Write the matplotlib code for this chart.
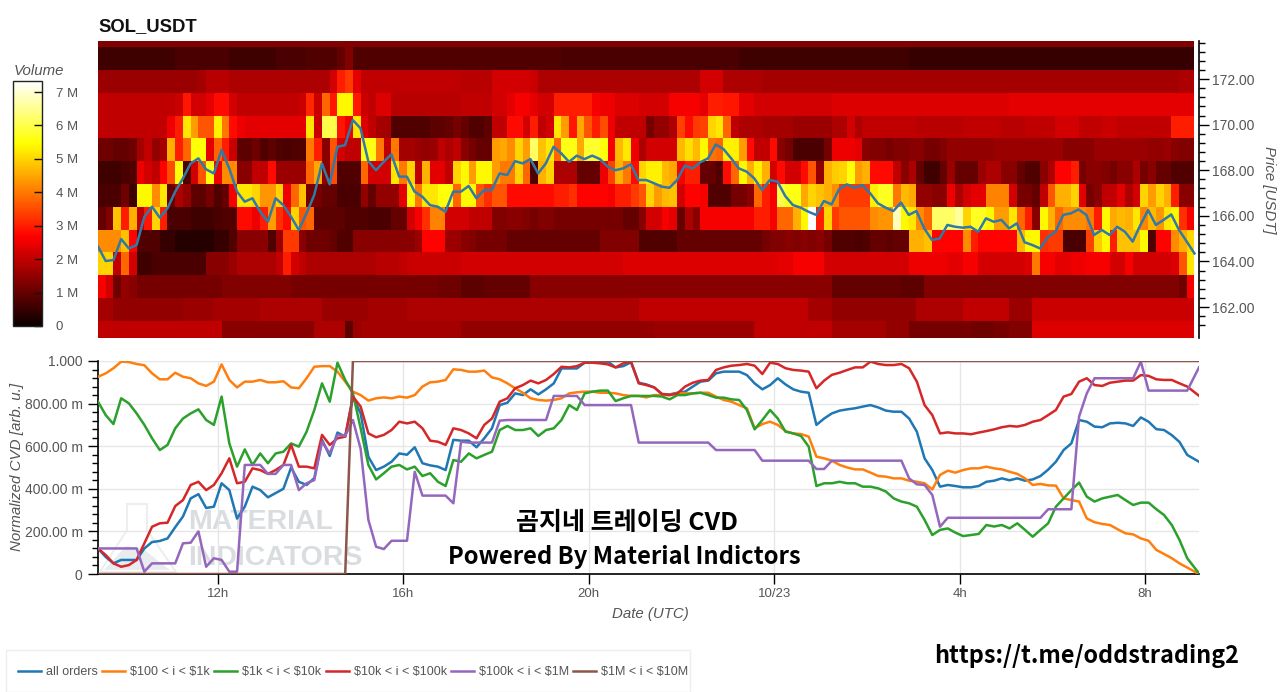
#!/usr/bin/env python3

import numpy as np
import matplotlib
matplotlib.use('Agg')

import matplotlib.pyplot as plt
from matplotlib.patches import Polygon, Rectangle

W, H = 1280, 692

# volume per price row, top row first, in 0.1 M, one value per 10 minute column
vol_top = [13] * 142
vol_1729 = [6, 6, 6, 6, 6, 6, 6, 6, 6, 6, 7, 7, 7, 7, 7, 7, 7, 6, 6, 6,
            6, 6, 6, 7, 7, 7, 7, 8, 8, 8, 8, 10, 13, 8, 8, 8, 8, 8, 8, 8,
            8, 8, 8, 8, 8, 8, 8, 8, 8, 8, 8, 8, 8, 8, 8, 8, 8, 8, 8, 8,
            7, 7, 7, 7, 7, 7, 7, 7, 7, 7, 7, 7, 7, 7, 7, 7, 7, 7, 7, 7,
            7, 7, 7, 6, 6, 6, 6, 6, 6, 6, 6, 6, 6, 6, 6, 6, 6, 6, 6, 6,
            6, 6, 6, 6, 6, 5, 5, 5, 5, 5, 5, 5, 5, 5, 5, 5, 5, 5, 5, 5,
            5, 5, 5, 5, 5, 5, 5, 5, 5, 5, 5, 5, 5, 5, 5, 5, 5, 5, 5, 5,
            5, 5]
vol_1719 = [16, 16, 16, 16, 16, 16, 16, 16, 16, 16, 16, 16, 16, 17, 19, 19, 19, 18, 18, 18,
            18, 18, 18, 18, 18, 18, 18, 18, 18, 18, 22, 30, 33, 24, 20, 20, 20, 20, 20, 20,
            20, 20, 20, 20, 20, 20, 20, 19, 19, 19, 19, 22, 22, 22, 22, 22, 21, 18, 18, 18,
            18, 18, 18, 18, 18, 18, 18, 18, 18, 18, 18, 18, 18, 18, 18, 18, 18, 18, 22, 22,
            22, 18, 18, 18, 18, 18, 17, 17, 17, 17, 17, 17, 17, 17, 17, 17, 17, 17, 17, 17,
            17, 17, 17, 17, 17, 17, 17, 17, 17, 17, 17, 17, 17, 17, 17, 17, 17, 17, 17, 17,
            17, 17, 17, 17, 17, 17, 17, 17, 17, 17, 17, 17, 17, 17, 17, 17, 17, 17, 17, 17,
            18, 18]
vol_1709 = [20, 20, 20, 20, 20, 20, 20, 20, 20, 20, 21, 29, 22, 22, 24, 28, 28, 22, 20, 20,
            20, 20, 20, 20, 20, 20, 21, 31, 21, 38, 29, 54, 54, 29, 21, 20, 23, 23, 19, 19,
            19, 19, 19, 19, 19, 19, 19, 20, 20, 20, 20, 22, 22, 24, 26, 26, 24, 22, 22, 30,
            30, 30, 30, 30, 26, 25, 25, 23, 23, 23, 22, 22, 22, 22, 26, 26, 26, 26, 24, 30,
            30, 29, 29, 24, 24, 22, 22, 22, 22, 22, 22, 22, 22, 22, 22, 23, 23, 23, 23, 23,
            23, 23, 23, 23, 23, 23, 23, 23, 23, 23, 23, 23, 23, 23, 23, 23, 23, 23, 24, 24,
            24, 24, 24, 24, 24, 24, 24, 24, 24, 24, 24, 24, 24, 24, 24, 24, 24, 24, 24, 24,
            24, 24]
vol_1699 = [20, 20, 20, 20, 20, 20, 20, 20, 20, 25, 30, 52, 44, 36, 36, 53, 40, 28, 25, 24,
            24, 24, 24, 24, 24, 24, 24, 52, 21, 60, 60, 29, 25, 52, 23, 20, 17, 17, 8, 8,
            8, 8, 8, 9, 9, 10, 12, 10, 8, 8, 9, 20, 20, 28, 28, 22, 30, 20, 22, 52,
            44, 29, 45, 36, 30, 35, 25, 20, 20, 20, 20, 12, 15, 15, 18, 34, 28, 33, 34, 50,
            52, 38, 20, 18, 18, 18, 17, 17, 17, 17, 16, 16, 16, 16, 16, 18, 18, 22, 18, 20,
            20, 20, 20, 20, 20, 20, 19, 19, 19, 19, 19, 19, 20, 20, 20, 20, 20, 19, 19, 19,
            20, 20, 20, 20, 22, 22, 22, 20, 20, 20, 21, 21, 20, 20, 20, 20, 20, 20, 20, 30,
            30, 30]
vol_1689 = [11, 11, 10, 10, 11, 17, 20, 15, 17, 46, 30, 38, 55, 55, 24, 38, 30, 21, 9, 9,
            11, 8, 9, 8, 7, 8, 8, 40, 30, 14, 36, 22, 20, 20, 56, 56, 40, 20, 40, 17,
            17, 16, 15, 16, 20, 18, 20, 14, 12, 10, 10, 44, 45, 42, 50, 44, 62, 48, 52, 38,
            56, 56, 45, 58, 58, 55, 26, 47, 52, 25, 18, 22, 22, 22, 22, 47, 51, 47, 54, 39,
            38, 53, 53, 44, 28, 20, 20, 28, 14, 12, 7, 7, 7, 7, 12, 25, 25, 25, 24, 14,
            13, 13, 12, 13, 13, 14, 14, 12, 12, 13, 15, 15, 15, 15, 15, 15, 16, 16, 16, 16,
            16, 16, 16, 16, 16, 14, 14, 14, 14, 16, 16, 16, 16, 16, 16, 16, 15, 15, 16, 14,
            13, 13]
vol_1679 = [6, 6, 6, 7, 8, 25, 22, 20, 27, 35, 55, 8, 22, 36, 55, 25, 42, 42, 14, 14,
            20, 20, 28, 16, 16, 16, 16, 38, 45, 14, 35, 8, 8, 8, 38, 22, 22, 22, 52, 40,
            50, 20, 46, 24, 24, 20, 50, 54, 44, 54, 54, 44, 40, 40, 50, 38, 8, 46, 50, 18,
            18, 18, 10, 10, 10, 25, 34, 46, 40, 28, 50, 53, 53, 47, 45, 26, 30, 30, 10, 10,
            8, 28, 38, 54, 46, 53, 46, 22, 28, 22, 22, 28, 36, 15, 46, 49, 50, 55, 44, 46,
            28, 28, 28, 20, 14, 18, 10, 6, 6, 10, 16, 10, 10, 10, 16, 18, 18, 14, 14, 10,
            8, 8, 14, 18, 27, 27, 30, 12, 14, 14, 13, 12, 14, 14, 18, 12, 14, 10, 10, 8,
            8, 8]
vol_1669 = [7, 7, 7, 11, 6, 54, 54, 42, 52, 10, 18, 15, 9, 9, 12, 8, 10, 26, 52, 52,
            50, 43, 43, 50, 25, 38, 48, 12, 12, 10, 10, 7, 7, 7, 15, 10, 15, 15, 15, 24,
            54, 40, 52, 52, 55, 55, 38, 54, 54, 36, 32, 36, 36, 28, 28, 28, 28, 28, 28, 30,
            30, 32, 27, 27, 27, 27, 26, 30, 30, 33, 36, 50, 44, 47, 48, 22, 27, 27, 26, 8,
            8, 8, 12, 12, 14, 38, 30, 26, 60, 56, 56, 45, 50, 48, 46, 42, 33, 33, 33, 33,
            53, 57, 57, 40, 47, 45, 15, 15, 14, 14, 25, 18, 22, 24, 24, 41, 41, 41, 22, 12,
            12, 10, 20, 36, 46, 46, 50, 24, 12, 14, 20, 20, 24, 18, 22, 50, 44, 50, 46, 30,
            14, 14]
vol_1659 = [10, 13, 48, 30, 46, 20, 29, 50, 30, 7, 7, 7, 6, 6, 6, 7, 8, 8, 28, 28,
            25, 30, 44, 32, 28, 50, 36, 38, 9, 9, 9, 9, 8, 8, 8, 7, 7, 7, 10, 10,
            22, 26, 32, 41, 41, 22, 22, 22, 20, 20, 20, 13, 13, 14, 14, 13, 12, 13, 13, 12,
            12, 12, 12, 12, 12, 12, 12, 12, 10, 10, 14, 22, 22, 26, 24, 10, 18, 14, 26, 26,
            26, 26, 26, 26, 26, 30, 30, 26, 38, 38, 46, 54, 73, 30, 50, 33, 36, 36, 36, 36,
            42, 43, 43, 68, 54, 52, 42, 38, 62, 62, 62, 66, 50, 57, 57, 54, 44, 44, 52, 38,
            30, 14, 54, 46, 38, 42, 42, 42, 40, 30, 54, 45, 47, 46, 52, 41, 47, 43, 52, 54,
            32, 26]
vol_1649 = [42, 42, 42, 48, 27, 8, 8, 8, 5, 5, 3, 3, 3, 3, 3, 5, 5, 8, 14, 14,
            14, 14, 8, 16, 33, 33, 14, 11, 11, 11, 10, 8, 8, 14, 14, 14, 14, 14, 14, 14,
            14, 16, 27, 27, 27, 16, 16, 14, 13, 12, 12, 12, 12, 10, 10, 10, 10, 10, 10, 10,
            10, 10, 10, 10, 10, 13, 13, 13, 13, 13, 8, 8, 8, 8, 8, 10, 10, 10, 10, 10,
            10, 10, 10, 10, 10, 10, 12, 13, 13, 14, 13, 14, 13, 14, 12, 8, 8, 8, 7, 8,
            10, 10, 9, 10, 10, 46, 46, 48, 27, 27, 27, 27, 42, 30, 27, 27, 27, 27, 27, 47,
            54, 54, 32, 33, 33, 7, 7, 7, 34, 49, 54, 30, 48, 48, 48, 54, 8, 27, 27, 42,
            46, 50]
vol_1639 = [50, 50, 20, 38, 22, 6, 6, 7, 7, 7, 7, 7, 7, 7, 14, 14, 14, 16, 18, 18,
            18, 18, 18, 20, 30, 22, 20, 18, 18, 18, 18, 18, 18, 18, 18, 18, 19, 19, 19, 20,
            21, 21, 21, 21, 21, 21, 21, 22, 22, 22, 22, 22, 22, 22, 22, 22, 22, 22, 22, 22,
            22, 22, 22, 22, 22, 22, 22, 22, 23, 23, 23, 23, 23, 23, 23, 23, 23, 23, 23, 23,
            23, 23, 23, 23, 23, 23, 23, 23, 24, 24, 26, 26, 26, 26, 22, 22, 22, 22, 22, 22,
            22, 22, 22, 22, 22, 25, 25, 25, 25, 25, 24, 24, 26, 26, 22, 22, 22, 22, 22, 22,
            23, 40, 26, 26, 24, 24, 25, 25, 26, 26, 26, 22, 22, 26, 22, 22, 22, 22, 22, 23,
            36, 52]
vol_1629 = [26, 22, 11, 15, 14, 12, 12, 12, 12, 12, 12, 12, 12, 12, 12, 12, 13, 13, 13, 13,
            13, 13, 13, 13, 13, 12, 12, 12, 12, 12, 12, 12, 12, 12, 12, 12, 12, 12, 12, 12,
            12, 12, 12, 12, 11, 11, 11, 9, 9, 9, 10, 10, 10, 10, 10, 10, 14, 14, 14, 14,
            14, 14, 14, 14, 14, 14, 14, 14, 14, 14, 14, 14, 14, 14, 14, 14, 14, 14, 14, 14,
            14, 14, 14, 14, 14, 14, 14, 14, 14, 14, 14, 14, 14, 14, 14, 10, 10, 10, 10, 10,
            10, 10, 10, 10, 9, 9, 9, 13, 13, 13, 13, 13, 13, 13, 13, 13, 13, 13, 13, 13,
            13, 13, 13, 13, 13, 13, 13, 13, 13, 13, 13, 13, 13, 13, 13, 13, 13, 13, 13, 13,
            11, 26]
vol_1619 = [17, 17, 15, 15, 15, 15, 15, 15, 15, 15, 15, 16, 16, 16, 16, 17, 17, 17, 17, 17,
            17, 18, 18, 18, 18, 18, 18, 18, 18, 16, 16, 16, 16, 16, 16, 17, 17, 17, 17, 17,
            18, 18, 18, 18, 18, 18, 18, 18, 18, 18, 18, 18, 18, 18, 18, 18, 18, 18, 18, 18,
            18, 18, 18, 18, 18, 18, 18, 18, 18, 18, 20, 20, 20, 20, 20, 20, 20, 20, 20, 20,
            20, 20, 20, 20, 20, 20, 20, 20, 20, 20, 20, 20, 17, 17, 17, 15, 15, 15, 15, 15,
            15, 15, 15, 15, 15, 15, 18, 18, 18, 18, 18, 18, 20, 20, 20, 20, 20, 20, 16, 16,
            16, 21, 21, 21, 21, 21, 21, 21, 21, 21, 21, 21, 21, 21, 21, 21, 21, 21, 21, 21,
            21, 21]
vol_1609 = [20, 20, 20, 20, 20, 20, 20, 20, 20, 20, 20, 20, 20, 20, 20, 20, 14, 14, 14, 14,
            14, 14, 14, 14, 14, 14, 14, 14, 18, 18, 18, 18, 9, 16, 17, 17, 17, 17, 17, 17,
            17, 17, 17, 17, 17, 17, 17, 15, 15, 15, 15, 15, 15, 15, 15, 15, 15, 15, 15, 15,
            15, 15, 15, 15, 15, 15, 15, 15, 15, 15, 15, 15, 16, 16, 16, 16, 16, 16, 16, 16,
            16, 16, 16, 16, 16, 20, 20, 20, 20, 20, 20, 20, 20, 20, 20, 17, 17, 17, 17, 17,
            17, 17, 15, 15, 15, 12, 12, 12, 12, 12, 12, 12, 12, 11, 11, 11, 12, 12, 13, 13,
            13, 23, 23, 23, 23, 23, 23, 23, 23, 23, 23, 23, 23, 23, 23, 23, 23, 23, 23, 23,
            23, 23]

price = [164.65, 164.02, 164.06, 164.98, 164.57, 164.72, 165.96, 166.4, 165.92, 166.33,
         167.06, 167.64, 168.3, 168.52, 168.04, 167.86, 168.89, 168.08, 167.06, 166.62,
         166.77, 166.18, 165.74, 166.77, 166.47, 165.96, 165.38, 166.1, 166.91, 168.3,
         167.38, 169.03, 169.1, 170.2, 169.84, 168.4, 168.0, 168.37, 168.7, 167.72,
         167.72, 167.06, 166.84, 166.47, 166.4, 166.18, 167.06, 167.06, 167.31, 166.77,
         167.13, 167.13, 167.86, 167.79, 168.4, 168.3, 168.49, 167.86, 168.3, 169.03,
         168.74, 168.37, 168.64, 168.49, 168.64, 168.49, 168.16, 168.0, 168.08, 168.26,
         167.57, 167.57, 167.43, 167.28, 167.23, 167.57, 168.2, 168.08, 168.35, 168.52,
         169.13, 168.93, 168.52, 168.08, 167.94, 167.64, 167.13, 167.57, 167.5, 166.87,
         166.47, 166.36, 166.18, 166.04, 166.65, 166.5, 167.18, 167.38, 167.23, 167.35,
         166.99, 166.55, 166.36, 166.21, 166.58, 166.04, 166.21, 165.45, 164.94, 165.01,
         165.6, 165.52, 165.48, 165.52, 165.3, 165.89, 165.74, 165.82, 165.45, 165.67,
         164.84, 164.72, 164.57, 165.06, 165.3, 166.04, 166.11, 166.28, 166.04, 165.16,
         165.38, 165.16, 165.52, 165.3, 164.87, 165.6, 166.25, 165.6, 165.82, 166.06,
         165.38, 164.87, 164.35]

cvd_all = [.12, .08, .05, .066, .066, .066, .12, .15, .155, .167,
           .22, .27, .355, .375, .31, .316, .426, .394, .26, .316,
           .41, .394, .36, .38, .40, .50, .433, .418, .45, .63,
           .554, .664, .645, .83, .754, .55, .488, .504, .527, .566,
           .56, .595, .52, .51, .504, .488, .63, .626, .626, .595,
           .637, .684, .793, .804, .848, .84, .867, .843, .867, .895,
           .965, .965, .965, .992, .997, .992, .997, .97, .976, .994,
           .898, .89, .876, .845, .843, .851, .856, .88, .903, .908,
           .942, .95, .95, .95, .934, .895, .867, .887, .919, .89,
           .867, .856, .851, .70, .73, .754, .767, .773, .778, .786,
           .793, .782, .767, .762, .762, .73, .668, .543, .488, .41,
           .418, .413, .407, .407, .413, .433, .438, .449, .44, .449,
           .438, .444, .46, .49, .527, .582, .613, .723, .715, .692,
           .689, .707, .71, .707, .695, .735, .715, .68, .676, .652,
           .62, .559, .527]
cvd_100 = [.926, .942, .966, .997, .995, .986, .98, .942, .914, .914,
           .945, .926, .919, .895, .883, .903, .984, .911, .876, .903,
           .903, .911, .90, .90, .905, .876, .872, .919, .973, .976,
           .976, .95, .903, .856, .84, .814, .825, .829, .825, .833,
           .828, .84, .88, .90, .903, .911, .961, .958, .95, .95,
           .955, .923, .914, .895, .872, .851, .825, .817, .814, .817,
           .825, .848, .853, .856, .856, .851, .851, .848, .84, .836,
           .836, .829, .84, .84, .84, .848, .848, .848, .851, .851,
           .833, .817, .809, .793, .778, .684, .704, .715, .70, .671,
           .66, .657, .645, .551, .543, .532, .512, .50, .491, .491,
           .476, .46, .457, .449, .449, .438, .433, .426, .397, .465,
           .485, .476, .488, .496, .496, .504, .496, .491, .48, .47,
           .449, .418, .423, .416, .415, .355, .347, .34, .261, .243,
           .235, .23, .21, .191, .186, .167, .156, .113, .094, .074,
           .05, .03, 0]
cvd_1k = [.809, .746, .704, .825, .801, .754, .70, .637, .582, .606,
          .684, .73, .754, .773, .723, .70, .833, .613, .504, .585,
          .512, .566, .52, .566, .574, .613, .598, .668, .77, .895,
          .809, .992, .911, .848, .684, .512, .444, .473, .504, .512,
          .491, .504, .46, .473, .433, .413, .535, .527, .566, .543,
          .559, .574, .676, .695, .676, .676, .684, .648, .676, .684,
          .723, .793, .77, .848, .856, .861, .861, .812, .825, .836,
          .836, .836, .836, .833, .82, .84, .84, .848, .851, .84,
          .828, .828, .82, .817, .77, .679, .723, .77, .73, .668,
          .66, .648, .598, .413, .426, .426, .433, .426, .426, .41,
          .41, .402, .387, .355, .34, .332, .316, .254, .183, .207,
          .214, .194, .178, .183, .188, .23, .223, .23, .214, .238,
          .207, .175, .207, .238, .316, .355, .394, .429, .363, .34,
          .355, .363, .371, .347, .324, .335, .335, .304, .277, .23,
          .16, .074, .003]
cvd_10k = [.12, .089, .05, .034, .042, .066, .144, .222, .238, .241,
           .319, .347, .418, .433, .394, .418, .473, .543, .426, .433,
           .496, .488, .47, .488, .512, .606, .504, .504, .496, .653,
           .606, .637, .645, .833, .786, .66, .642, .653, .676, .715,
           .707, .715, .684, .626, .621, .606, .684, .676, .66, .637,
           .70, .73, .809, .825, .872, .887, .908, .895, .911, .939,
           .973, .97, .976, .992, .992, .989, .984, .97, .989, .997,
           .895, .887, .876, .845, .84, .848, .88, .898, .908, .911,
           .958, .97, .978, .981, .986, .978, .939, .992, .986, .966,
           .958, .955, .95, .872, .908, .935, .945, .958, .97, .97,
           .997, .986, .981, .981, .986, .966, .903, .793, .746, .66,
           .665, .66, .66, .656, .664, .671, .679, .689, .695, .692,
           .70, .715, .723, .746, .77, .833, .845, .903, .919, .887,
           .883, .898, .903, .908, .908, .934, .93, .914, .911, .911,
           .895, .88, .837]
cvd_100k = [.12, .12, .12, .12, .12, .12, .011, .05, .05, .05,
            .05, .144, .147, .2, .034, .074, .066, .011, .011, .512,
            .512, .512, .47, .47, .512, .512, .394, .426, .441, .621,
            .566, .653, .648, .723, .587, .254, .128, .117, .156, .156,
            .156, .48, .368, .368, .368, .368, .332, .621, .617, .617,
            .617, .617, .72, .723, .723, .723, .723, .723, .723, .836,
            .836, .836, .836, .793, .793, .793, .793, .793, .793, .793,
            .617, .617, .617, .617, .617, .617, .617, .617, .617, .617,
            .582, .582, .582, .582, .582, .582, .532, .532, .532, .532,
            .532, .532, .532, .493, .493, .532, .532, .532, .532, .532,
            .532, .532, .532, .532, .532, .449, .421, .418, .371, .222,
            .264, .264, .264, .264, .264, .264, .264, .264, .264, .264,
            .264, .264, .264, .304, .304, .304, .304, .739, .848, .919,
            .919, .919, .919, .919, .919, .997, .861, .861, .861, .861,
            .861, .861, .97]
cvd_1m = [0] * 33 + [1] * 110

cvd_labels = ["all orders", "$100 < i < $1k", "$1k < i < $10k",
              "$10k < i < $100k", "$100k < i < $1M", "$1M < i < $10M"]
cvd_colors = ["#1f77b4", "#ff7f0e", "#2ca02c", "#d62728", "#9467bd", "#8c564b"]

hour_ticks = [12, 16, 20, 24, 28, 32]
hour_labels = ["12h", "16h", "20h", "10/23", "4h", "8h"]
price_ticks = [162, 164, 166, 168, 170, 172]
volume_ticks = [0, 1, 2, 3, 4, 5, 6, 7]
volume_labels = ["0", "1 M", "2 M", "3 M", "4 M", "5 M", "6 M", "7 M"]
cvd_ticks = [0, .2, .4, .6, .8, 1]
cvd_tick_labels = ["0", "200.00 m", "400.00 m", "600.00 m", "800.00 m", "1.000"]

GREY = "#555555"


def axes_px(fig, left, top, right, bottom):
    # axes from pixel edges of the picture
    return fig.add_axes([left / W, 1 - bottom / H, (right - left) / W, (bottom - top) / H])


def label_px(fig, x, y, text, **kw):
    kw.setdefault("ha", "center")
    kw.setdefault("va", "center")
    return fig.text(x / W, 1 - y / H, text, **kw)


def to_fig(points):
    return [(x / W, 1 - y / H) for x, y in points]


def main():
    plt.rcParams['font.family'] = ['Liberation Sans', 'DejaVu Sans']
    fig = plt.figure(figsize=(W / 100, H / 100), dpi=100)

    t0 = 12 - 120 / 46.35
    t1 = 12 + 981 / 46.35
    edges_t = t0 + np.arange(143) / 6
    edges_p = np.arange(160.4, 174.5, 1.0)
    line_t = edges_t.copy()
    line_t[-1] = t1

    # heatmap with the price on top
    ax1 = axes_px(fig, 98, 41, 1198.5, 338)
    rows = [vol_top, vol_1729, vol_1719, vol_1709, vol_1699, vol_1689, vol_1679, vol_1669,
            vol_1659, vol_1649, vol_1639, vol_1629, vol_1619, vol_1609]
    volume = np.array(rows, dtype=float)[::-1] / 10
    mesh = ax1.pcolormesh(edges_t, edges_p, volume, cmap="hot", vmin=0, vmax=7.33,
                          shading="flat", antialiased=False)
    ax1.plot(edges_t, price, color="#2f7aa8", lw=1.8)
    ax1.set_xlim(t0, t1)
    ax1.set_ylim(160.64, 173.67)
    ax1.set_xticks([])
    for s in ("left", "top", "bottom"):
        ax1.spines[s].set_visible(False)
    ax1.spines["right"].set_linewidth(1.2)
    ax1.yaxis.tick_right()
    ax1.set_yticks(price_ticks)
    ax1.set_yticklabels(["%.2f" % p for p in price_ticks], color=GREY, fontsize=10)
    ax1.set_yticks(np.arange(161.2, 173.7, 0.4), minor=True)
    ax1.tick_params(axis="y", which="major", length=7, width=1, pad=3)
    ax1.tick_params(axis="y", which="minor", length=4, width=1)

    # colour bar
    cax = axes_px(fig, 13, 81, 42, 326)
    cbar = fig.colorbar(mesh, cax=cax, ticks=volume_ticks)
    cbar.ax.set_yticklabels(volume_labels, color=GREY, fontsize=9.5)
    cbar.ax.tick_params(direction="in", length=6, width=1, pad=10, color="#111111")
    cbar.outline.set_edgecolor("#222222")
    cbar.outline.set_linewidth(1)
    label_px(fig, 39, 71, "Volume", style="italic", color=GREY, fontsize=10.8)

    # normalized CVD
    ax2 = axes_px(fig, 98, 361, 1199, 574)
    ax2.patch.set_visible(False)
    series = [cvd_all, cvd_100, cvd_1k, cvd_10k, cvd_100k, cvd_1m]
    lines = []
    for values, name, color in zip(series, cvd_labels, cvd_colors):
        name = name.replace("$", r"\$")
        lines.append(ax2.plot(line_t, values, color=color, lw=1.8, label=name, zorder=3)[0])
    ax2.set_xlim(t0, t1)
    ax2.set_ylim(0, 1)
    ax2.spines["top"].set_visible(False)
    ax2.spines["right"].set_visible(False)
    ax2.spines["left"].set_linewidth(1.2)
    ax2.spines["bottom"].set_linewidth(1.2)
    ax2.set_xticks(hour_ticks)
    ax2.set_xticklabels(hour_labels, color=GREY, fontsize=9.5)
    ax2.set_yticks(cvd_ticks)
    ax2.set_yticklabels(cvd_tick_labels, color=GREY, fontsize=10)
    ax2.set_yticks(np.arange(0, 1.001, 0.04), minor=True)
    ax2.tick_params(axis="y", which="major", length=7, width=1, pad=4)
    ax2.tick_params(axis="y", which="minor", length=4, width=1)
    ax2.tick_params(axis="x", length=7, width=1, pad=3)
    ax2.grid(True, which="major", color="#e6e6e6", lw=1)
    ax2.set_axisbelow(True)

    # watermark behind the lines
    flask = to_fig([(127, 504), (147, 504), (147, 530), (176, 572), (100, 572), (127, 530)])
    liquid = to_fig([(104, 570), (126, 546), (142, 548), (170, 570)])
    fig.add_artist(Polygon(flask, closed=True, fill=False, ec="#eceeef", lw=1.5, zorder=-1,
                           transform=fig.transFigure))
    fig.add_artist(Polygon(liquid, closed=True, fc="#e8ecef", ec="none", zorder=-1,
                           transform=fig.transFigure))
    for y, word in ((522, "MATERIAL"), (558, "INDICATORS")):
        label_px(fig, 188, y, word, ha="left", fontsize=20.5, fontweight="bold", color="#d9dde0",
                 zorder=-1)

    # overlay text
    kr = ['Noto Sans CJK KR', 'DejaVu Sans']
    label_px(fig, 627, 523, "곰지네 트레이딩 CVD", family=kr, fontweight="bold", fontsize=18, color="black")
    label_px(fig, 624, 557, "Powered By Material Indictors", family=kr, fontweight="bold",
             fontsize=17.1, color="black")
    label_px(fig, 1087, 656, "https://t.me/oddstrading2", family=kr, fontweight="bold",
             fontsize=16.8, color="black")

    # titles and axis labels
    label_px(fig, 98, 26.5, "SOL_USDT", ha="left", fontweight="bold", fontsize=13.3, color="#111111")
    label_px(fig, 650, 614, "Date (UTC)", style="italic", color=GREY, fontsize=10.8)
    label_px(fig, 17, 467, "Normalized CVD [arb. u.]", style="italic", color=GREY, fontsize=10.9, rotation=90)
    label_px(fig, 1269, 190, "Price [USDT]", style="italic", color=GREY, fontsize=10.8, rotation=-90)

    # legend along the bottom, with its own frame
    fig.add_artist(Rectangle((6 / W, 0), 684 / W, 42 / H, fill=False, ec="#eeeeee", lw=1,
                             transform=fig.transFigure))
    leg = fig.legend(handles=lines, loc="center left", bbox_to_anchor=(18 / W, 20 / H), ncol=6,
                     fontsize=9, frameon=False, handlelength=1.85, handletextpad=0.4,
                     columnspacing=0.33, borderpad=0, borderaxespad=0)
    for text in leg.get_texts():
        text.set_color(GREY)

    fig.savefig("out.png", dpi=100)


if __name__ == "__main__":
    main()
